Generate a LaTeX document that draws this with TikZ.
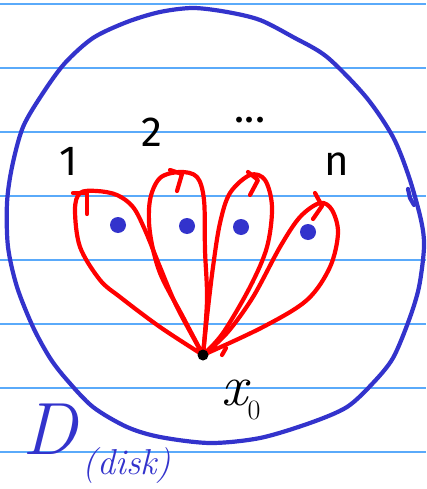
\documentclass[tikz,border=0pt]{standalone}
\usepackage{fontspec}
\setsansfont{Fira Sans}
\begin{document}
\begin{tikzpicture}[x=1pt,y=-1pt,
  rule/.style={draw=ruleblue,line width=1.6pt},
  disk/.style={draw=penblue,line width=4.2pt,line cap=round,line join=round},
  loopline/.style={draw=penred,line width=4.2pt,line cap=round,line join=round},
  puncture/.style={circle,fill=penblue,minimum size=16pt,inner sep=0pt},
  base/.style={circle,fill=black,minimum size=11pt,inner sep=0pt},
  lbl/.style={inner sep=0pt,font=\sffamily\fontsize{42}{48}\selectfont}]
\definecolor{ruleblue}{RGB}{90,170,250}
\definecolor{penblue}{RGB}{51,51,204}
\definecolor{penred}{RGB}{255,0,0}
\useasboundingbox[fill=white] (0,0) rectangle (426,489);
% ruled paper
\foreach \y in {4,68,132,196,260,324,388,452} \draw[rule] (0,\y) -- (426,\y);
% disk boundary
\draw[disk] plot[smooth cycle,tension=0.5] coordinates {
  (193,8) (227,12) (260,20) (293,37) (327,57) (366,97) (393,137) (409,177)
  (421,220) (424,247) (419,287) (409,320) (393,358) (373,383) (347,407)
  (310,423) (260,438) (210,443) (160,437) (127,427) (93,407) (67,380)
  (50,358) (33,327) (17,287) (8,247) (7,203) (12,167) (23,127) (43,93)
  (65,63) (93,38) (127,22) (160,12)};
\draw[disk] (408,189) -- (410,198) -- (414,205);
% punctures
\node[puncture] (p1) at (118,225) {};
\node[puncture] (p2) at (187,226) {};
\node[puncture] (p3) at (241,227) {};
\node[puncture] (p4) at (308,232) {};
% base point
\coordinate (x0) at (203,355);
% loops
\draw[loopline] plot[smooth,tension=0.55] coordinates {
  (x0) (177,307) (160,267) (145,230) (133,207) (117,195) (97,191) (80,193)
  (75,210) (80,247) (100,280) (120,297) (160,327) (x0)};
\draw[loopline] (73,193) -- (87,193) -- (87,214);
\draw[loopline] plot[smooth,tension=0.55] coordinates {
  (x0) (183,317) (160,273) (150,233) (150,200) (160,178) (180,172) (197,177)
  (204,200) (205,250) (207,300) (x0)};
\draw[loopline] (170,170) -- (182,174) -- (177,191);
\draw[loopline] plot[smooth,tension=0.55] coordinates {
  (x0) (207,317) (213,267) (220,223) (230,193) (250,175) (265,180)
  (272,207) (267,247) (250,287) (223,333) (x0)};
\draw[loopline] (248,172) -- (258,180) -- (250,195);
\draw[loopline] plot[smooth,tension=0.55] coordinates {
  (x0) (227,333) (253,297) (280,247) (300,217) (320,203) (332,210)
  (338,233) (330,267) (307,300) (263,327) (x0)};
\draw[loopline] (315,193) -- (322,206) -- (313,219);
\draw[loopline] (222,355) -- (226,348);
\node[base] (b) at (x0) {};
% labels
\node[lbl] (l1) at (69,161) {1};
\node[lbl] (l2) at (152,132) {2};
\node[lbl] (ld) at (250,120) {...};
\node[lbl] (ln) at (337,164) {n};
\node[inner sep=0pt,font=\itshape\fontsize{58}{64}\selectfont] (xlab) at (241,400)
  {x\raisebox{-14pt}{\fontsize{28}{32}\selectfont\upshape 0}};
\node[inner sep=0pt,text=penblue,font=\itshape\fontsize{74}{80}\selectfont] (dlab) at (50,429) {D};
\node[inner sep=0pt,text=penblue,font=\itshape\fontsize{36}{40}\selectfont] (disklab) at (127,466) {(disk)};
\end{tikzpicture}
\end{document}
